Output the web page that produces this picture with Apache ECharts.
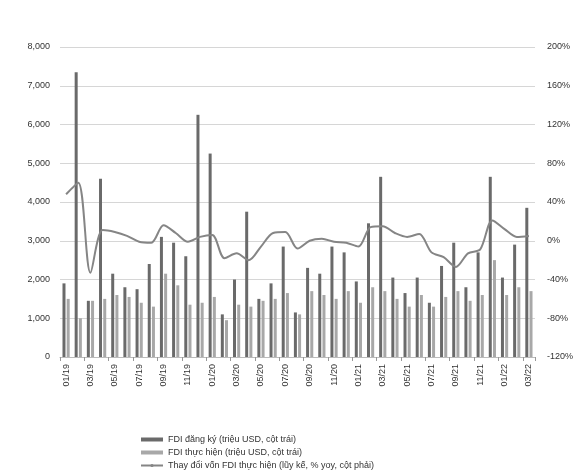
<!DOCTYPE html>
<html><head><meta charset="utf-8">
<script src="https://cdn.jsdelivr.net/npm/echarts@6/dist/echarts.min.js"></script>
<style>html,body{margin:0;padding:0;background:#fff}#c{width:586px;height:475px}</style>
</head><body><div id="c"></div>
<script>
var months = ['01/19','02/19','03/19','04/19','05/19','06/19','07/19','08/19','09/19','10/19','11/19','12/19',
'01/20','02/20','03/20','04/20','05/20','06/20','07/20','08/20','09/20','10/20','11/20','12/20',
'01/21','02/21','03/21','04/21','05/21','06/21','07/21','08/21','09/21','10/21','11/21','12/21',
'01/22','02/22','03/22'];
var registered = [1900,7350,1450,4600,2150,1800,1750,2400,3100,2950,2600,6250,5250,1100,2000,3750,1500,1900,2850,1150,2300,2150,2850,2700,1950,3450,4650,2050,1650,2050,1400,2350,2950,1800,2700,4650,2050,2900,3850];
var disbursed = [1500,1000,1450,1500,1600,1550,1400,1300,2150,1850,1350,1400,1550,950,1350,1300,1450,1500,1650,1100,1700,1600,1500,1700,1400,1800,1700,1500,1300,1600,1300,1550,1700,1450,1600,2500,1600,1800,1700];
var changeYoy = [48,60,-33,11,9,5,-1,-2,16,8,-1,4,6,-18,-13,-20,-6,8,9,-8,0,2,-1,-2,-6,14,15,8,4,7,-12,-17,-27,-13,-9,21,12,4,5];
var names = ['FDI đăng ký (triệu USD, cột trái)','FDI thực hiện (triệu USD, cột trái)','Thay đổi vốn FDI thực hiện (lũy kế, % yoy, cột phải)'];

var chart = echarts.init(document.getElementById('c'));
var font = 'Liberation Sans, Arial, sans-serif';
chart.setOption({
  animation:false,
  textStyle:{fontFamily:font},
  grid:{left:60,right:51,top:47,bottom:118},
  legend:{
    orient:'vertical',left:135,top:430,itemGap:4,itemWidth:22,itemHeight:4,
    textStyle:{fontSize:9,color:'#333',fontFamily:font},
    data:[{name:names[0],icon:'rect'},{name:names[1],icon:'rect'},{name:names[2]}]
  },
  xAxis:{
    type:'category',data:months,
    axisLine:{show:true,lineStyle:{color:'#bbb'}},
    axisTick:{show:true,alignWithLabel:false,length:4,lineStyle:{color:'#999'}},
    axisLabel:{rotate:90,interval:1,fontSize:9,color:'#333',margin:7}
  },
  yAxis:[{
    type:'value',min:0,max:8000,interval:1000,
    axisLine:{show:false},axisTick:{show:false},
    splitLine:{lineStyle:{color:'#d6d6d6'}},
    axisLabel:{fontSize:9,color:'#333',margin:10,formatter:function(v){return v===0?'0':(v/1000)+',000';}}
  },{
    type:'value',min:-120,max:200,interval:40,
    axisLine:{show:false},axisTick:{show:false},splitLine:{show:false},
    axisLabel:{fontSize:9,color:'#333',margin:12,align:'left',formatter:'{value}%'}
  }],
  series:[
    {name:names[0],type:'bar',data:registered,barWidth:3,barGap:'40%',itemStyle:{color:'#6a6a6a'}},
    {name:names[1],type:'bar',data:disbursed,barWidth:3,itemStyle:{color:'#a8a8a8'}},
    {name:names[2],type:'line',yAxisIndex:1,data:changeYoy,symbol:'none',smooth:0.3,
     lineStyle:{color:'#858585',width:2},itemStyle:{color:'#858585'}}
  ]
});
</script></body></html>
